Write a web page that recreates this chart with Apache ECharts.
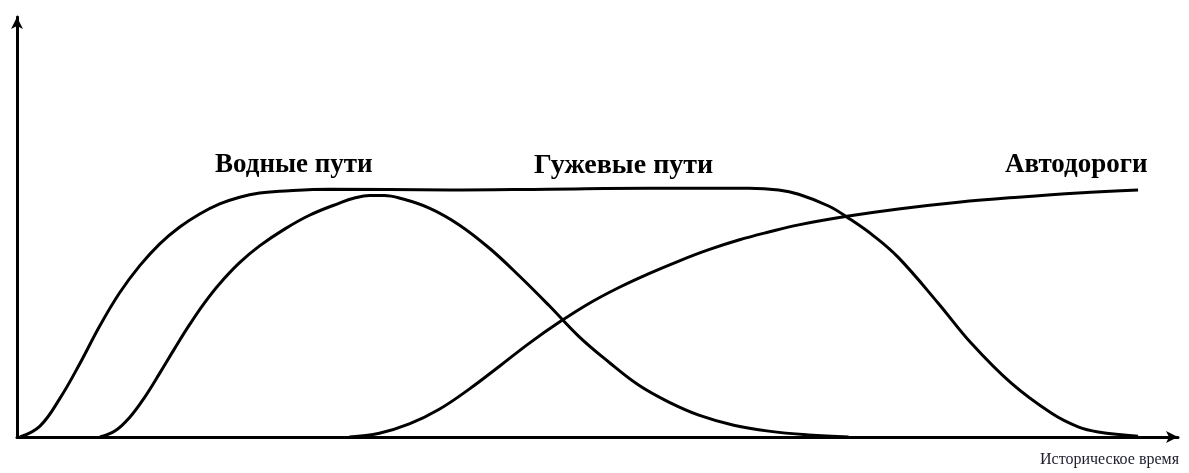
<!DOCTYPE html>
<html>
<head>
<meta charset="utf-8">
<script src="https://cdn.jsdelivr.net/npm/echarts@6/dist/echarts.min.js"></script>
<style>
  html, body { margin: 0; padding: 0; background: #fff; }
  #chart { width: 1189px; height: 473px; }
</style>
</head>
<body>
<div id="chart"></div>
<script>
// curve with long plateau
var timeA = [0.3, 2.3, 4.3, 6.3, 8.3, 10.3, 12.3, 14.3, 16.3, 18.3, 20.3, 22.3, 24.3, 26.3, 31.3, 43.3, 53.3, 63.3, 73.3, 76.3, 78.3, 81.3, 83.3, 85.8, 88.3, 92.3, 95.6, 99.6, 103.6, 106.3, 108.3, 112.3];
var valA  = [0, 2.6, 9.2, 17.5, 26.5, 34.4, 40.8, 46.0, 50.0, 53.1, 55.5, 57.1, 58.1, 58.5, 59.0, 58.8, 59.0, 59.2, 59.2, 58.8, 57.8, 55.0, 52.1, 47.9, 42.7, 31.8, 22.3, 12.8, 5.7, 2.4, 1.2, 0.2];
// bell curve
var timeB = [8.3, 9.8, 11.3, 12.8, 14.3, 15.8, 17.3, 18.8, 20.3, 22.3, 24.3, 26.8, 29.3, 32.3, 33.8, 35.3, 36.8, 38.3, 41.3, 44.3, 47.3, 50.3, 53.3, 56.3, 59.3, 62.3, 65.3, 68.3, 71.8, 75.3, 79.3, 83.3];
var valB  = [0, 1.4, 4.7, 9.5, 15.2, 21.1, 26.8, 32.0, 36.5, 41.5, 45.5, 49.5, 52.8, 55.7, 56.9, 57.5, 57.5, 56.9, 54.5, 50.5, 45.0, 38.4, 31.3, 23.9, 17.8, 12.3, 8.3, 5.2, 2.8, 1.4, 0.5, 0];
// rising curve
var timeC = [33.3, 36.3, 39.3, 42.3, 45.3, 48.3, 51.3, 54.3, 57.3, 60.3, 63.3, 66.3, 69.3, 72.3, 75.3, 78.3, 83.3, 88.3, 94.3, 100.3, 106.3, 112.3];
var valC  = [0, 0.9, 3.1, 6.6, 11.4, 16.8, 22.3, 27.3, 31.8, 35.6, 38.9, 41.9, 44.6, 46.9, 48.8, 50.5, 52.6, 54.3, 55.9, 57.1, 58.1, 58.8];

var labels = ['Водные пути', 'Гужевые пути', 'Автодороги'];
var axisName = 'Историческое время';

function pairs(xs, ys) {
    var out = [];
    for (var i = 0; i < xs.length; i++) out.push([xs[i], ys[i]]);
    return out;
}

function curve(name, xs, ys) {
    return {
        name: name,
        type: 'line',
        smooth: 0.4,
        showSymbol: false,
        silent: true,
        lineStyle: { color: '#000', width: 3 },
        data: pairs(xs, ys)
    };
}

var axisLine = {
    show: true,
    symbol: ['none', 'arrow'],
    symbolSize: [9, 12],
    lineStyle: { color: '#000', width: 3 }
};

var labelFont = 'bold 27px "Liberation Serif"';

var option = {
    animation: false,
    backgroundColor: '#fff',
    grid: { left: 17, right: 11, top: 17, bottom: 36, outerBoundsMode: 'none' },
    xAxis: {
        type: 'value', min: 0, max: 116.3,
        axisLine: axisLine,
        axisTick: { show: false },
        axisLabel: { show: false },
        splitLine: { show: false }
    },
    yAxis: {
        type: 'value', min: 0, max: 100,
        axisLine: axisLine,
        axisTick: { show: false },
        axisLabel: { show: false },
        splitLine: { show: false }
    },
    series: [
        curve('A', timeA, valA),
        curve('B', timeB, valB),
        curve('C', timeC, valC)
    ],
    graphic: [
        { type: 'text', left: 215, top: 152, style: { text: labels[0], font: labelFont, fill: '#000' } },
        { type: 'text', left: 534, top: 152, style: { text: labels[1], font: 'bold 28px "Liberation Serif"', fill: '#000' } },
        { type: 'text', left: 1005, top: 152, style: { text: labels[2], font: labelFont, fill: '#000' } },
        { type: 'text', left: 1040, top: 452, style: { text: axisName, font: '16px "Liberation Serif"', fill: '#1c1c2c' } }
    ]
};

var myChart = echarts.init(document.getElementById('chart'));
myChart.setOption(option);
</script>
</body>
</html>
